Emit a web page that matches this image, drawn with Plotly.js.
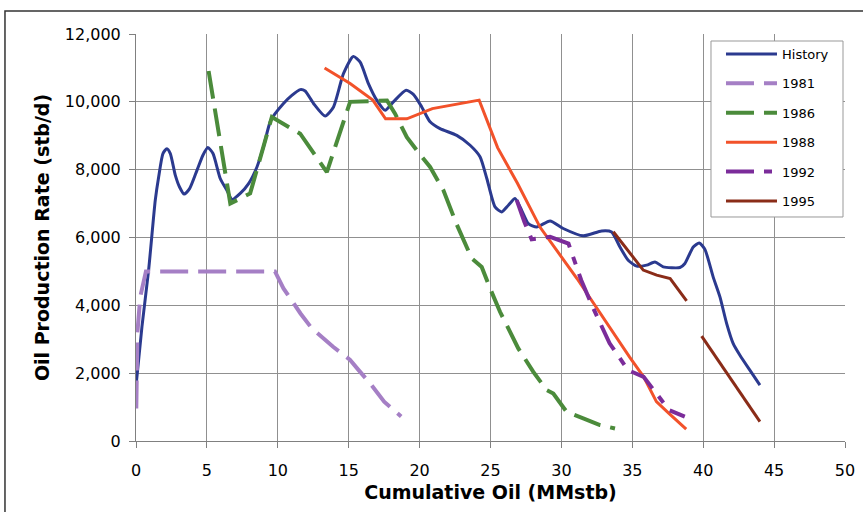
<!DOCTYPE html>
<html>
<head>
<meta charset="utf-8">
<script src="https://cdn.plot.ly/plotly-3.0.1.min.js"></script>
<style>
  html, body { margin: 0; padding: 0; background: #ffffff; }
  #chart { width: 863px; height: 512px; }
</style>
</head>
<body>
<div id="chart"></div>
<script>
// ---- Data ----
const historyX = [0.02, 0.42, 0.89, 1.36, 1.6, 1.9, 2.18, 2.42, 2.77, 3.07, 3.4, 3.78, 4.3, 4.72, 5.07, 5.43, 5.94, 6.41, 6.77, 7.35, 7.94, 8.53, 8.99, 9.5, 10.4, 10.99, 11.58, 11.93, 12.52, 13.34, 13.93, 14.63, 15.33, 15.81, 16.39, 16.98, 17.57, 18.15, 19.05, 19.56, 20.15, 20.74, 21.44, 22.62, 23.56, 24.26, 24.74, 25.32, 25.79, 26.26, 26.73, 27.2, 27.67, 28.26, 29.2, 30.13, 31.54, 32.84, 33.54, 34.13, 34.71, 35.31, 36.01, 36.6, 37.18, 38.36, 38.71, 39.3, 39.72, 40.12, 40.7, 41.18, 41.65, 42.11, 42.59, 43.29, 44.0];
const historyY = [1700, 3370, 5040, 7100, 7790, 8475, 8620, 8475, 7840, 7490, 7280, 7440, 7980, 8425, 8650, 8475, 7740, 7390, 7120, 7300, 7590, 8080, 8670, 9450, 9950, 10190, 10360, 10320, 9950, 9580, 9850, 10830, 11340, 11170, 10540, 10050, 9750, 10000, 10340, 10220, 9850, 9410, 9210, 9010, 8720, 8380, 7740, 6900, 6755, 6950, 7150, 6800, 6410, 6310, 6490, 6265, 6050, 6195, 6165, 5720, 5330, 5155, 5185, 5280, 5135, 5115, 5235, 5720, 5840, 5650, 4840, 4250, 3470, 2880, 2530, 2090, 1650];

const f1981X = [0.02, 0.1, 0.3, 0.7, 9.8, 10.4, 11.6, 12.4, 13.9, 15.1, 15.7, 16.6, 17.5, 18.7];
const f1981Y = [960, 3200, 4250, 5000, 5000, 4500, 3760, 3320, 2780, 2390, 2090, 1650, 1160, 720];

const f1986X = [5.12, 6.65, 8.05, 9.58, 11.58, 13.46, 15.1, 17.7, 18.27, 19.1, 19.8, 20.74, 21.68, 22.6, 23.68, 24.38, 24.97, 25.67, 26.38, 26.96, 28.02, 28.96, 29.43, 30.37, 31.54, 32.72, 33.78];
const f1986Y = [10910, 7000, 7300, 9550, 9060, 7930, 10000, 10040, 9650, 8960, 8570, 8080, 7390, 6400, 5380, 5130, 4500, 3810, 3220, 2730, 2040, 1500, 1400, 860, 670, 470, 370];

const f1988X = [13.3, 15.1, 16.7, 17.6, 19.1, 20.9, 24.2, 25.5, 26.9, 28.5, 31.1, 32.9, 34.8, 35.8, 36.7, 37.6, 38.8];
const f1988Y = [11000, 10540, 10050, 9500, 9500, 9800, 10050, 8650, 7600, 6300, 4790, 3650, 2480, 1890, 1160, 810, 350];

const f1992X = [26.85, 27.4, 27.9, 29.2, 30.5, 31.05, 31.4, 32.25, 33.4, 34.7, 35.8, 36.7, 37.6, 38.7];
const f1992Y = [7100, 6450, 5950, 6020, 5820, 5180, 4740, 3910, 2880, 2090, 1890, 1400, 910, 720];

const f1995X = [33.66, 34.6, 35.77, 36.72, 37.67, 38.83, null, 39.89, 44.0];
const f1995Y = [6170, 5680, 5040, 4890, 4790, 4130, null, 3090, 570];

const xTicks = [0, 5, 10, 15, 20, 25, 30, 35, 40, 45, 50];
const yTicks = [0, 2000, 4000, 6000, 8000, 10000, 12000];

const seriesNames = ['History', '1981', '1986', '1988', '1992', '1995'];

// ---- Traces ----
const traces = [
  { x: historyX, y: historyY, name: seriesNames[0], legendgroup: 'g0', mode: 'lines',
    line: { color: '#2b3a8f', width: 3, shape: 'spline', smoothing: 0.6 } },
  { x: f1981X, y: f1981Y, name: seriesNames[1], legendgroup: 'g1', mode: 'lines',
    line: { color: '#a57fc5', width: 4, dash: '28px,10px' } },
  { x: f1986X, y: f1986Y, name: seriesNames[2], legendgroup: 'g2', mode: 'lines',
    line: { color: '#4b8b3b', width: 4, dash: '28px,10px' } },
  { x: f1988X, y: f1988Y, name: seriesNames[3], legendgroup: 'g3', mode: 'lines',
    line: { color: '#f2522a', width: 3 } },
  { x: f1992X, y: f1992Y, name: seriesNames[4], legendgroup: 'g4', mode: 'lines',
    line: { color: '#7b2c9a', width: 4, dash: '28px,10px,8px,10px' } },
  { x: f1995X, y: f1995Y, name: seriesNames[5], legendgroup: 'g5', mode: 'lines', connectgaps: false,
    line: { color: '#8a2c18', width: 3 } }
];

const tickFont = { family: 'DejaVu Sans, sans-serif', size: 16, color: '#000000' };
const titleFont = { family: 'DejaVu Sans, sans-serif', size: 19, color: '#000000', weight: 'bold' };

const layout = {
  width: 863,
  height: 512,
  margin: { l: 136, r: 18, t: 34, b: 71, pad: 0 },
  paper_bgcolor: '#ffffff',
  plot_bgcolor: '#ffffff',
  showlegend: true,
  xaxis: {
    range: [0, 50],
    tickvals: xTicks,
    ticktext: xTicks.map(String),
    ticks: 'outside', ticklen: 6, tickcolor: '#808080', tickwidth: 1,
    ticklabelstandoff: 9,
    showline: true, linecolor: '#808080', linewidth: 1,
    showgrid: true, gridcolor: '#909090', gridwidth: 1,
    zeroline: false,
    tickfont: tickFont,
    title: { text: '<b>Cumulative Oil (MMstb)</b>', font: titleFont, standoff: 6 }
  },
  yaxis: {
    range: [0, 12000],
    tickvals: yTicks,
    tickformat: ',d',
    ticks: 'outside', ticklen: 6, tickcolor: '#808080', tickwidth: 1,
    ticklabelstandoff: 5,
    showline: true, linecolor: '#808080', linewidth: 1,
    showgrid: true, gridcolor: '#909090', gridwidth: 1,
    zeroline: false,
    tickfont: tickFont,
    title: { text: '<b>Oil Production Rate (stb/d)</b>', font: titleFont, standoff: 10 }
  },
  legend: {
    x: 0.8251, y: 0.9877, xanchor: 'left', yanchor: 'top',
    bgcolor: 'rgba(0,0,0,0)', borderwidth: 0,
    font: { family: 'DejaVu Sans, sans-serif', size: 13, color: '#000000' },
    traceorder: 'grouped', tracegroupgap: 9.5,
    itemwidth: 51
  },
  shapes: [
    { type: 'rect', xref: 'paper', yref: 'paper',
      x0: -0.1848, x1: 1.05, y0: -0.21, y1: 1.0565,
      line: { color: '#333333', width: 1.5 }, fillcolor: 'rgba(0,0,0,0)', layer: 'below' },
    { type: 'rect', xref: 'paper', yref: 'paper',
      x0: 0.811, x1: 0.9972, y0: 0.5504, y1: 0.9828,
      line: { color: '#999999', width: 1 }, fillcolor: '#ffffff', layer: 'above' }
  ]
};

Plotly.newPlot('chart', traces, layout, { staticPlot: true, displayModeBar: false });
</script>
</body>
</html>
